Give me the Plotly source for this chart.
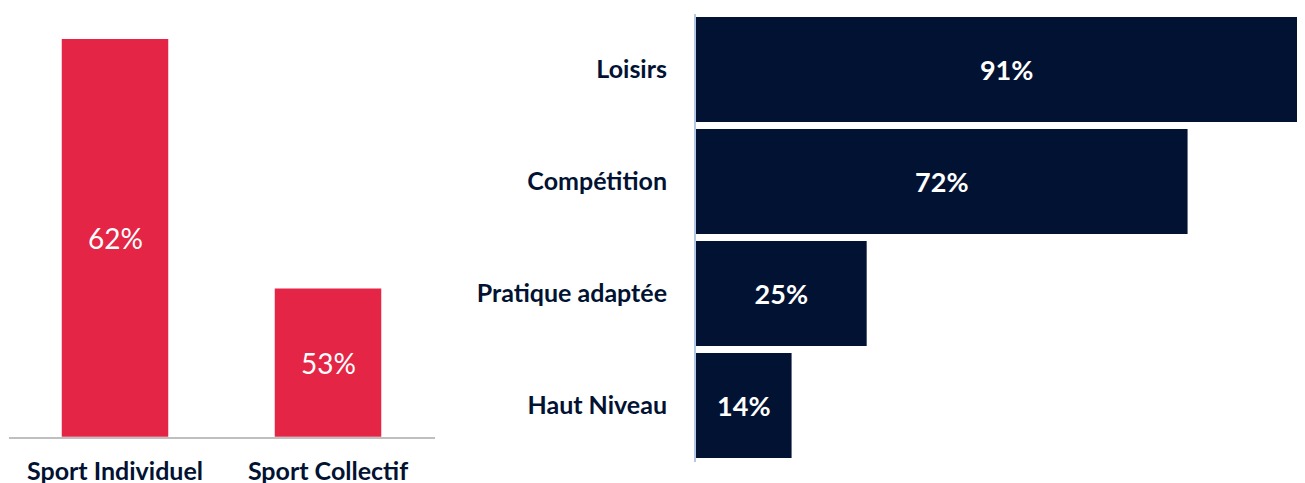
import plotly.graph_objects as go

# Left chart data
sport_types = ["Sport Individuel", "Sport Collectif"]
sport_values = [62, 53]

# Right chart data
practice_types = ["Loisirs", "Compétition", "Pratique adaptée", "Haut Niveau"]
practice_values = [91, 72, 25, 14]

RED = "#E42545"
NAVY = "#021232"
FONT = "Lato"
W, H = 1305, 483
OFF = 8  # default page body margin: paper px = screen px - OFF
Y_MIN, Y_MAX = 47.65, 62.94


def xd(a, b):
    return [(a - OFF) / W, min((b - OFF) / W, 1.0)]


def yd(top, bottom):
    return [(H - (bottom - OFF)) / H, (H - (top - OFF)) / H]


fig = go.Figure()

fig.add_trace(go.Bar(
    x=sport_types, y=sport_values,
    marker=dict(color=RED, line=dict(width=0)),
    xaxis="x", yaxis="y", width=0.5, showlegend=False, hoverinfo="skip",
))

# value labels centred in the visible part of each red bar
for cat, v in zip(sport_types, sport_values):
    fig.add_annotation(
        x=cat, y=(v + Y_MIN) / 2, xref="x", yref="y",
        text=f"{v}%", showarrow=False,
        font=dict(color="white", size=28, family=FONT),
    )

fig.add_trace(go.Bar(
    y=practice_types, x=practice_values, orientation="h",
    marker=dict(color=NAVY, line=dict(width=0)),
    text=[f"<b>{v}%</b>" for v in practice_values],
    textposition="inside", insidetextanchor="middle",
    textfont=dict(color="white", size=27, family=FONT),
    xaxis="x2", yaxis="y2", showlegend=False, hoverinfo="skip",
))

fig.update_layout(
    width=W, height=H,
    margin=dict(l=0, r=0, t=0, b=0),
    paper_bgcolor="white", plot_bgcolor="white",
    bargap=0.0625,
    font=dict(family=FONT, color=NAVY),
    xaxis=dict(
        domain=xd(8.5, 434.5), anchor="y",
        showline=True, linecolor="#BFBFBF", linewidth=1.5,
        showgrid=False, ticks="", ticklabelstandoff=12,
        tickfont=dict(size=25, color=NAVY, family=FONT, weight="bold"),
    ),
    yaxis=dict(
        domain=yd(13, 436.7), anchor="x",
        range=[Y_MIN, Y_MAX], visible=False, showgrid=False,
    ),
    xaxis2=dict(
        domain=xd(696, 1305), anchor="y2",
        range=[0, 89.2], visible=False, showgrid=False,
    ),
    yaxis2=dict(
        domain=yd(13.5, 461.5), anchor="x2",
        autorange="reversed",
        showline=True, linecolor="#B4C7E7", linewidth=2,
        showgrid=False, ticks="", ticklabelstandoff=22,
        tickfont=dict(size=25, color=NAVY, family=FONT, weight="bold"),
    ),
)

fig.write_html("out.html", config={"displayModeBar": False})
